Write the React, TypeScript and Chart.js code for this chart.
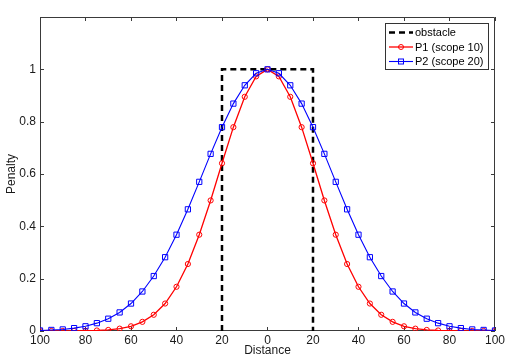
import React, { useEffect, useRef } from "react";
import { Chart, registerables } from "chart.js";

Chart.register(...registerables);

const distances = [-100, -95, -90, -85, -80, -75, -70, -65, -60, -55, -50, -45, -40, -35, -30, -25, -20, -15, -10, -5, 0, 5, 10, 15, 20, 25, 30, 35, 40, 45, 50, 55, 60, 65, 70, 75, 80, 85, 90, 95, 100];

const p1Values = [0.0, 0.0, 0.0, 0.0003, 0.001, 0.002, 0.004, 0.009, 0.018, 0.035, 0.062, 0.105, 0.169, 0.256, 0.368, 0.499, 0.641, 0.779, 0.895, 0.973, 1.0, 0.973, 0.895, 0.779, 0.641, 0.499, 0.368, 0.256, 0.169, 0.105, 0.062, 0.035, 0.018, 0.009, 0.004, 0.002, 0.001, 0.0003, 0.0, 0.0, 0.0];

const p2Values = [0.002, 0.004, 0.006, 0.011, 0.018, 0.03, 0.047, 0.071, 0.105, 0.151, 0.21, 0.282, 0.368, 0.465, 0.57, 0.677, 0.779, 0.869, 0.939, 0.985, 1.0, 0.985, 0.939, 0.869, 0.779, 0.677, 0.57, 0.465, 0.368, 0.282, 0.21, 0.151, 0.105, 0.071, 0.047, 0.03, 0.018, 0.011, 0.006, 0.004, 0.002];

const obstacleX = [-20, -20, 20, 20];
const obstacleY = [0, 1, 1, 0];

const xTicks = [-100, -80, -60, -40, -20, 0, 20, 40, 60, 80, 100];
const xTickLabels = ["100", "80", "60", "40", "20", "0", "20", "40", "60", "80", "100"];
const yTicks = [0, 0.2, 0.4, 0.6, 0.8, 1];
const yTickLabels = ["0", "0.2", "0.4", "0.6", "0.8", "1", ""];

const seriesNames = ["obstacle", "P1 (scope 10)", "P2 (scope 20)"];

const FONT = "'Liberation Sans', Arial, sans-serif";

const framePlugin = {
  id: "frame",
  beforeDatasetsDraw(chart: any) {
    const { ctx, chartArea } = chart;
    const { left, right, top, bottom } = chartArea;
    const xs = chart.scales.x;
    const ys = chart.scales.y;
    ctx.save();
    ctx.strokeStyle = "#3a3a3a";
    ctx.lineWidth = 1;
    ctx.beginPath();
    ctx.rect(Math.round(left) + 0.5, Math.round(top) + 0.5, Math.round(right - left) - 1, Math.round(bottom - top) - 1);
    const tl = 4;
    for (const v of xTicks) {
      const px = Math.round(xs.getPixelForValue(v)) + 0.5;
      ctx.moveTo(px, bottom);
      ctx.lineTo(px, bottom - tl);
      ctx.moveTo(px, top);
      ctx.lineTo(px, top + tl);
    }
    for (const v of yTicks) {
      const py = Math.round(ys.getPixelForValue(v)) + 0.5;
      ctx.moveTo(left, py);
      ctx.lineTo(left + tl, py);
      ctx.moveTo(right, py);
      ctx.lineTo(right - tl, py);
    }
    ctx.stroke();
    ctx.restore();
  },
};

const legendPlugin = {
  id: "customLegend",
  afterDraw(chart: any) {
    const { ctx } = chart;
    const bx = 385.5, by = 23.5, bw = 103, bh = 46;
    ctx.save();
    ctx.fillStyle = "#ffffff";
    ctx.fillRect(bx, by, bw, bh);
    ctx.strokeStyle = "#333";
    ctx.lineWidth = 1;
    ctx.strokeRect(bx, by, bw, bh);
    const rows = [32.5, 47, 61.5];
    const x0 = 389, x1 = 413, xm = 401;
    ctx.font = `11px ${FONT}`;
    ctx.textBaseline = "middle";
    ctx.textAlign = "left";
    chart.data.datasets.forEach((ds: any, i: number) => {
      const y = rows[i];
      ctx.save();
      ctx.strokeStyle = ds.borderColor;
      ctx.lineWidth = ds.borderWidth;
      ctx.setLineDash(ds.borderDash || []);
      ctx.beginPath();
      ctx.moveTo(x0, y);
      ctx.lineTo(x1, y);
      ctx.stroke();
      ctx.setLineDash([]);
      ctx.lineWidth = 1;
      if (ds.pointStyle === "circle" && ds.pointRadius > 0) {
        ctx.beginPath();
        ctx.arc(xm, y, 2.5, 0, Math.PI * 2);
        ctx.stroke();
      } else if (ds.pointStyle === "rect" && ds.pointRadius > 0) {
        ctx.strokeRect(xm - 2.5, y - 2.5, 5, 5);
      }
      ctx.restore();
      ctx.fillStyle = "#000";
      ctx.fillText(seriesNames[i], 415, y + 0.5);
    });
    ctx.restore();
  },
};

export default function App() {
  const ref = useRef<HTMLCanvasElement | null>(null);
  useEffect(() => {
    if (!ref.current) return;
    const chart = new Chart(ref.current, {
      type: "line",
      data: {
        datasets: [
          {
            label: seriesNames[0],
            data: obstacleX.map((x, i) => ({ x, y: obstacleY[i] })),
            borderColor: "#000000",
            borderWidth: 2.5,
            borderDash: [6, 4],
            pointRadius: 0,
            pointStyle: "line",
            fill: false,
            tension: 0,
            order: 3,
          },
          {
            label: seriesNames[1],
            data: distances.map((x, i) => ({ x, y: p1Values[i] })),
            borderColor: "#ff0000",
            borderWidth: 1.3,
            pointStyle: "circle",
            pointRadius: 2.6,
            pointBorderWidth: 1,
            pointBackgroundColor: "rgba(0,0,0,0)",
            pointBorderColor: "#ff0000",
            fill: false,
            tension: 0,
            order: 2,
          },
          {
            label: seriesNames[2],
            data: distances.map((x, i) => ({ x, y: p2Values[i] })),
            borderColor: "#0000ff",
            borderWidth: 1.1,
            pointStyle: "rect",
            pointRadius: 3.7,
            pointBorderWidth: 1,
            pointBackgroundColor: "rgba(0,0,0,0)",
            pointBorderColor: "#0000ff",
            fill: false,
            tension: 0,
            order: 1,
          },
        ],
      },
      options: {
        animation: false,
        responsive: false,
        devicePixelRatio: 1,
        layout: { padding: { left: 0, top: 17, right: 9, bottom: 0 } },
        plugins: { legend: { display: false }, tooltip: { enabled: false } },
        scales: {
          x: {
            type: "linear",
            min: -100,
            max: 100,
            grid: { display: false, drawTicks: false },
            border: { display: false },
            afterBuildTicks: (s: any) => {
              s.ticks = xTicks.map((v) => ({ value: v }));
            },
            ticks: {
              autoSkip: false,
              maxRotation: 0,
              padding: 2,
              color: "#1a1a1a",
              font: { family: FONT, size: 12 },
              callback: (_v: any, i: number) => xTickLabels[i],
            },
            title: {
              display: true,
              text: "Distance",
              color: "#1a1a1a",
              font: { family: FONT, size: 12 },
              padding: { top: 0, bottom: 0 },
            },
            afterFit: (s: any) => {
              s.height = 27;
            },
          },
          y: {
            type: "linear",
            min: 0,
            max: 1.2,
            grid: { display: false, drawTicks: false },
            border: { display: false },
            afterBuildTicks: (s: any) => {
              s.ticks = [0, 0.2, 0.4, 0.6, 0.8, 1, 1.2].map((v) => ({ value: v }));
            },
            ticks: {
              autoSkip: false,
              padding: 4,
              color: "#1a1a1a",
              font: { family: FONT, size: 12 },
              callback: (_v: any, i: number) => yTickLabels[i],
            },
            title: {
              display: true,
              text: "Penalty",
              color: "#1a1a1a",
              font: { family: FONT, size: 12 },
              padding: { top: 4, bottom: 0 },
            },
            afterFit: (s: any) => {
              s.width = 40;
            },
          },
        },
      },
      plugins: [framePlugin, legendPlugin],
    });
    return () => chart.destroy();
  }, []);

  return (
    <div style={{ position: "fixed", left: 0, top: 0, width: 507, height: 358, background: "#fff" }}>
      <canvas ref={ref} width={507} height={358} style={{ display: "block", width: 507, height: 358 }} />
    </div>
  );
}
